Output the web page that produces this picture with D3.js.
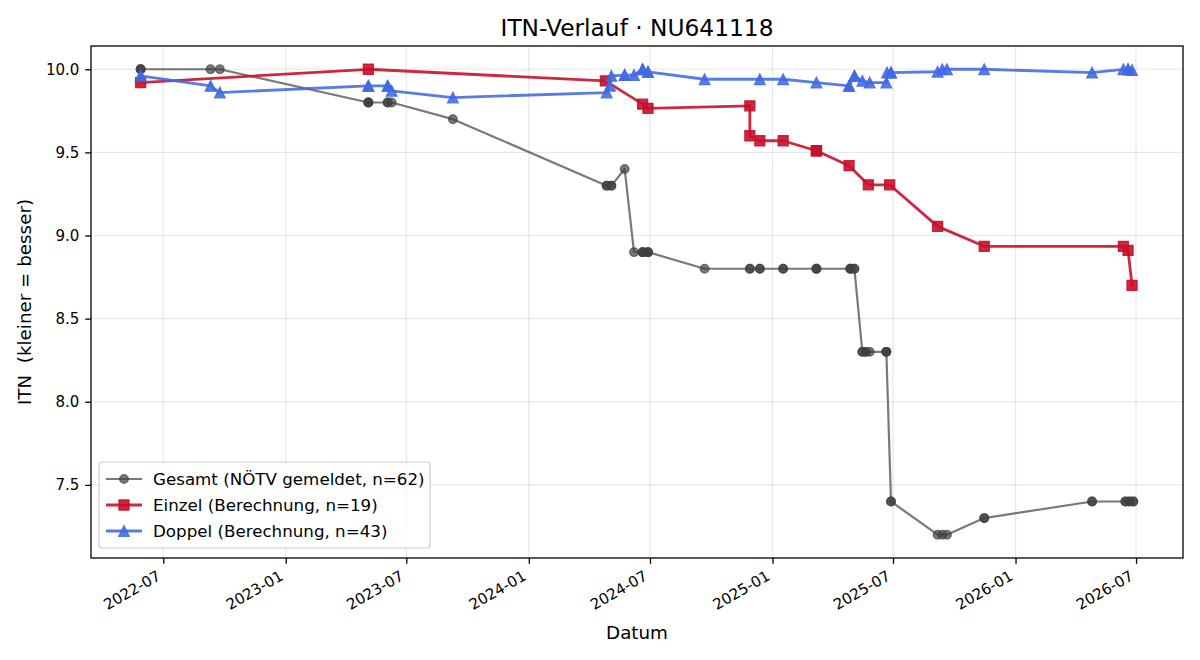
<!DOCTYPE html>
<html>
<head>
<meta charset="utf-8">
<script src="https://cdn.jsdelivr.net/npm/d3@7"></script>
<style>
body { margin: 0; background: #fff; }
svg text { font-family: "DejaVu Sans", sans-serif; fill: #000; }
</style>
</head>
<body>
<div id="main"></div>
<script>
// Gesamt (NÖTV gemeldet) - one entry per reported match, same day entries overlap
var gesamtDates = [
    "2022-05-28", "2022-05-28", "2022-05-28", "2022-09-10", "2022-09-24",
    "2023-05-05", "2023-05-05", "2023-05-05", "2023-06-03", "2023-06-03", "2023-06-09", "2023-09-09",
    "2024-04-27", "2024-04-27", "2024-05-04", "2024-05-04", "2024-05-24", "2024-06-07",
    "2024-06-20", "2024-06-20", "2024-06-20", "2024-06-28", "2024-06-28", "2024-06-28",
    "2024-09-21", "2024-11-28", "2024-11-28", "2024-12-13", "2024-12-13",
    "2025-01-17", "2025-01-17", "2025-03-08", "2025-03-08", "2025-03-08",
    "2025-04-28", "2025-04-28", "2025-04-28", "2025-05-04", "2025-05-04",
    "2025-05-16", "2025-05-16", "2025-05-21", "2025-05-21", "2025-05-27",
    "2025-06-21", "2025-06-21", "2025-06-21", "2025-06-28", "2025-06-28",
    "2025-09-06", "2025-09-13", "2025-09-20", "2025-11-15", "2025-11-15",
    "2026-04-26", "2026-04-26", "2026-06-15", "2026-06-15", "2026-06-21", "2026-06-21",
    "2026-06-27", "2026-06-27"
];
var gesamtValues = [
    10.0, 10.0, 10.0, 10.0, 10.0,
    9.8, 9.8, 9.8, 9.8, 9.8, 9.8, 9.7,
    9.3, 9.3, 9.3, 9.3, 9.4, 8.9,
    8.9, 8.9, 8.9, 8.9, 8.9, 8.9,
    8.8, 8.8, 8.8, 8.8, 8.8,
    8.8, 8.8, 8.8, 8.8, 8.8,
    8.8, 8.8, 8.8, 8.8, 8.8,
    8.3, 8.3, 8.3, 8.3, 8.3,
    8.3, 8.3, 8.3, 7.4, 7.4,
    7.2, 7.2, 7.2, 7.3, 7.3,
    7.4, 7.4, 7.4, 7.4, 7.4, 7.4,
    7.4, 7.4
];

// Einzel (Berechnung)
var einzelDates = [
    "2022-05-28", "2023-05-05", "2024-04-25", "2024-06-20", "2024-06-28",
    "2024-11-28", "2024-11-28", "2024-12-13", "2025-01-17", "2025-03-08", "2025-03-08",
    "2025-04-26", "2025-05-25", "2025-06-26", "2025-09-06", "2025-11-15",
    "2026-06-12", "2026-06-19", "2026-06-25"
];
var einzelValues = [
    9.92, 10.0, 9.93, 9.79, 9.765,
    9.78, 9.60, 9.57, 9.57, 9.51, 9.51,
    9.42, 9.305, 9.305, 9.055, 8.935,
    8.935, 8.91, 8.70
];

// Doppel (Berechnung)
var doppelDates = [
    "2022-05-28", "2022-05-28", "2022-09-10", "2022-09-24",
    "2023-05-05", "2023-05-05", "2023-06-03", "2023-06-03", "2023-06-09", "2023-09-09",
    "2024-04-27", "2024-05-02", "2024-05-04", "2024-05-24", "2024-05-24", "2024-06-07",
    "2024-06-20", "2024-06-20", "2024-06-28", "2024-06-28", "2024-09-21", "2024-12-13",
    "2025-01-17", "2025-03-08", "2025-04-26", "2025-04-26", "2025-05-04", "2025-05-04",
    "2025-05-16", "2025-05-27", "2025-06-21", "2025-06-22", "2025-06-28", "2025-06-28",
    "2025-09-06", "2025-09-13", "2025-09-20", "2025-11-15",
    "2026-04-26", "2026-06-12", "2026-06-19", "2026-06-19", "2026-06-25"
];
var doppelValues = [
    9.96, 9.96, 9.90, 9.86,
    9.90, 9.90, 9.90, 9.90, 9.87, 9.83,
    9.86, 9.90, 9.96, 9.965, 9.965, 9.965,
    10.0, 10.0, 9.985, 9.985, 9.94, 9.94,
    9.94, 9.92, 9.90, 9.90, 9.96, 9.96,
    9.93, 9.92, 9.92, 9.98, 9.98, 9.98,
    9.985, 10.0, 10.0, 10.0,
    9.98, 10.0, 10.0, 10.0, 9.995
];

var xTickLabels = ["2022-07", "2023-01", "2023-07", "2024-01", "2024-07", "2025-01", "2025-07", "2026-01", "2026-07"];
var yTicks = [7.5, 8.0, 8.5, 9.0, 9.5, 10.0];

var ctx = {
    w: 1200,
    h: 660,
    left: 91,
    right: 1183,
    top: 46,
    bottom: 558,
    tickFont: 15,
    legendFont: 16.7,
    labelFont: 18.3,
    titleFont: 23.3,
    tickLen: 5.8,
    timeParser: d3.timeParse("%Y-%m-%d"),
    monthParser: d3.timeParse("%Y-%m"),
};

var series = [
    {name: "Gesamt (NÖTV gemeldet, n=62)", dates: gesamtDates, values: gesamtValues,
     color: "#404040", alpha: 0.7, lw: 2.2, marker: "circle", size: 4.3},
    {name: "Einzel (Berechnung, n=19)", dates: einzelDates, values: einzelValues,
     color: "#c8102e", alpha: 0.9, lw: 2.8, marker: "square", size: 5.0},
    {name: "Doppel (Berechnung, n=43)", dates: doppelDates, values: doppelValues,
     color: "#4169e1", alpha: 0.88, lw: 2.8, marker: "triangle", size: 5.3}
];

// marker path centred on 0,0 (matplotlib style shapes)
var markerPath = function(kind, s) {
    if (kind == "square") {
        return "M" + (-s) + "," + (-s) + "H" + s + "V" + s + "H" + (-s) + "Z";
    } else if (kind == "triangle") {
        return "M0," + (-s) + "L" + s + "," + s + "L" + (-s) + "," + s + "Z";
    }
    return d3.symbol().type(d3.symbolCircle).size(Math.PI * s * s)();
};

var createChart = function(svg) {
    // 1. build point lists
    series.forEach(function(s) {
        s.points = s.dates.map(function(d, i) {
            return {date: ctx.timeParser(d), value: s.values[i]};
        });
    });
    var all = [];
    series.forEach(function(s) { all = all.concat(s.points); });

    // 2. scales with matplotlib style 5% margins
    var tExt = d3.extent(all, function(p) { return p.date.getTime(); });
    var tPad = (tExt[1] - tExt[0]) * 0.05;
    var vExt = d3.extent(all, function(p) { return p.value; });
    var vPad = (vExt[1] - vExt[0]) * 0.05;
    var x = d3.scaleTime()
        .domain([new Date(tExt[0] - tPad), new Date(tExt[1] + tPad)])
        .range([ctx.left, ctx.right]);
    var y = d3.scaleLinear()
        .domain([vExt[0] - vPad, vExt[1] + vPad])
        .range([ctx.bottom, ctx.top]);
    var xTicks = xTickLabels.map(function(t) { return ctx.monthParser(t); });

    // 3. grid
    var grid = svg.append("g");
    grid.selectAll(".gx").data(xTicks).enter().append("line")
        .attr("x1", function(d) { return x(d); })
        .attr("x2", function(d) { return x(d); })
        .attr("y1", ctx.top).attr("y2", ctx.bottom);
    grid.selectAll(".gy").data(yTicks).enter().append("line")
        .attr("x1", ctx.left).attr("x2", ctx.right)
        .attr("y1", function(d) { return y(d); })
        .attr("y2", function(d) { return y(d); });
    grid.selectAll("line")
        .style("stroke", "#b0b0b0")
        .style("stroke-opacity", 0.3)
        .style("stroke-width", 1.2);

    // 4. lines + markers
    var line = d3.line()
        .x(function(p) { return x(p.date); })
        .y(function(p) { return y(p.value); });
    series.forEach(function(s) {
        var g = svg.append("g");
        g.append("path")
            .attr("d", line(s.points))
            .style("fill", "none")
            .style("stroke", s.color)
            .style("stroke-opacity", s.alpha)
            .style("stroke-width", s.lw)
            .style("stroke-linejoin", "round")
            .style("stroke-linecap", "square");
        g.selectAll(".m").data(s.points).enter().append("path")
            .attr("d", markerPath(s.marker, s.size))
            .attr("transform", function(p) { return "translate(" + x(p.date) + "," + y(p.value) + ")"; })
            .style("fill", s.color)
            .style("fill-opacity", s.alpha)
            .style("stroke", s.color)
            .style("stroke-opacity", s.alpha)
            .style("stroke-width", 1.3);
    });

    // 5. frame
    svg.append("rect")
        .attr("x", ctx.left).attr("y", ctx.top)
        .attr("width", ctx.right - ctx.left).attr("height", ctx.bottom - ctx.top)
        .style("fill", "none").style("stroke", "#000").style("stroke-width", 1.3);

    // 6. axes
    var xAxis = svg.append("g")
        .attr("transform", "translate(0," + ctx.bottom + ")")
        .call(d3.axisBottom(x).tickValues(xTicks).tickFormat(d3.timeFormat("%Y-%m"))
            .tickSize(ctx.tickLen).tickSizeOuter(0));
    xAxis.selectAll("text")
        .attr("y", 0).attr("dy", 0)
        .attr("text-anchor", "end")
        .attr("transform", "translate(-2,21) rotate(-30)");
    var yAxis = svg.append("g")
        .attr("transform", "translate(" + ctx.left + ",0)")
        .call(d3.axisLeft(y).tickValues(yTicks).tickFormat(d3.format(".1f"))
            .tickSize(ctx.tickLen).tickSizeOuter(0).tickPadding(ctx.tickLen));
    [xAxis, yAxis].forEach(function(a) {
        a.select(".domain").remove();
        a.selectAll("line").style("stroke", "#000").style("stroke-width", 1.3);
        a.selectAll("text").style("font-size", ctx.tickFont + "px")
            .style("font-family", "DejaVu Sans, sans-serif").style("fill", "#000");
    });

    // 7. labels and title
    svg.append("text")
        .attr("x", (ctx.left + ctx.right) / 2).attr("y", 36)
        .attr("text-anchor", "middle")
        .style("font-size", ctx.titleFont + "px")
        .text("ITN-Verlauf · NU641118");
    svg.append("text")
        .attr("x", (ctx.left + ctx.right) / 2).attr("y", 639)
        .attr("text-anchor", "middle")
        .style("font-size", ctx.labelFont + "px")
        .text("Datum");
    svg.append("text")
        .attr("transform", "translate(31," + (ctx.top + ctx.bottom) / 2 + ") rotate(-90)")
        .attr("text-anchor", "middle")
        .style("font-size", ctx.labelFont + "px")
        .style("white-space", "pre")
        .text("ITN  (kleiner = besser)");

    // 8. legend
    var legend = svg.append("g").attr("transform", "translate(99,462)");
    legend.append("rect")
        .attr("width", 331).attr("height", 86).attr("rx", 3)
        .style("fill", "#fff").style("fill-opacity", 0.8)
        .style("stroke", "#cccccc").style("stroke-width", 1.2);
    var rows = legend.selectAll(".row").data(series).enter().append("g")
        .attr("transform", function(s, i) { return "translate(0," + (17 + i * 26) + ")"; });
    rows.append("line")
        .attr("x1", 7).attr("x2", 43).attr("y1", 0).attr("y2", 0)
        .style("stroke", function(s) { return s.color; })
        .style("stroke-opacity", function(s) { return s.alpha; })
        .style("stroke-width", function(s) { return s.lw; });
    rows.append("path")
        .attr("d", function(s) { return markerPath(s.marker, s.size); })
        .attr("transform", "translate(25,0)")
        .style("fill", function(s) { return s.color; })
        .style("fill-opacity", function(s) { return s.alpha; })
        .style("stroke", function(s) { return s.color; })
        .style("stroke-opacity", function(s) { return s.alpha; })
        .style("stroke-width", 1.3);
    rows.append("text")
        .attr("x", 54).attr("y", 6)
        .style("font-size", ctx.legendFont + "px")
        .text(function(s) { return s.name; });
};

var svgEl = d3.select("#main").append("svg")
    .attr("width", ctx.w)
    .attr("height", ctx.h);
createChart(svgEl);
</script>
</body>
</html>
